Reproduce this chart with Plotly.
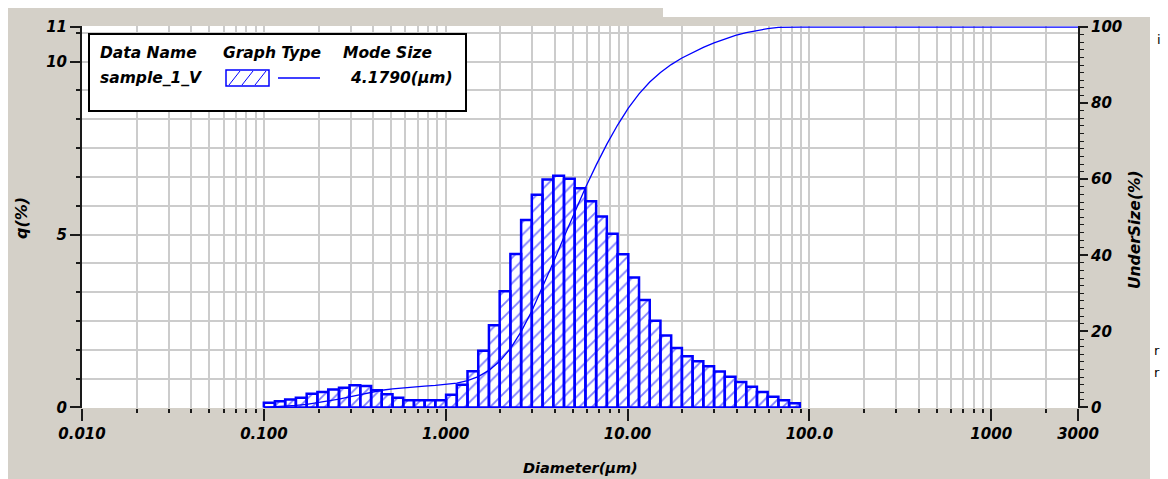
import math
import plotly.graph_objects as go

# ---------------- data ----------------
diameter_edges = [0.100, 0.115, 0.131, 0.150, 0.172, 0.197, 0.226, 0.259, 0.296, 0.339,
                  0.389, 0.445, 0.510, 0.584, 0.669, 0.766, 0.877, 1.005, 1.151, 1.318,
                  1.510, 1.729, 1.981, 2.269, 2.599, 2.976, 3.409, 3.905, 4.472, 5.122,
                  5.867, 6.720, 7.697, 8.816, 10.097, 11.565, 13.246, 15.172, 17.377, 19.904,
                  22.797, 26.111, 29.907, 34.255, 39.234, 44.938, 51.471, 58.953, 67.523, 77.340,
                  88.583]
q_percent = [0.14, 0.18, 0.23, 0.28, 0.40, 0.45, 0.52, 0.57, 0.64, 0.62,
             0.50, 0.38, 0.28, 0.21, 0.21, 0.21, 0.21, 0.37, 0.66, 1.05,
             1.64, 2.38, 3.36, 4.44, 5.42, 6.15, 6.59, 6.70, 6.61, 6.34,
             5.96, 5.52, 5.02, 4.43, 3.76, 3.11, 2.51, 2.08, 1.72, 1.48,
             1.34, 1.19, 1.04, 0.89, 0.74, 0.60, 0.45, 0.31, 0.21, 0.12]
undersize_diam = diameter_edges + [3000]
undersize_pct = [0.00, 0.14, 0.32, 0.55, 0.83, 1.23, 1.68, 2.20, 2.77, 3.41,
                 4.03, 4.53, 4.91, 5.19, 5.40, 5.61, 5.82, 6.03, 6.40, 7.06,
                 8.11, 9.75, 12.13, 15.49, 19.93, 25.35, 31.50, 38.09, 44.79, 51.40,
                 57.74, 63.70, 69.22, 74.24, 78.67, 82.43, 85.54, 88.05, 90.13, 91.85,
                 93.33, 94.67, 95.86, 96.90, 97.79, 98.53, 99.13, 99.58, 99.89, 100.0,
                 100.0, 100.0]

x_tick_vals = [0.01, 0.1, 1, 10, 100, 1000, 3000]
x_tick_text = ["0.010", "0.100", "1.000", "10.00", "100.0", "1000", "3000"]
q_tick_vals = [0, 5, 10, 11]
q_tick_text = ["0", "5", "10", "11"]
u_tick_vals = [0, 20, 40, 60, 80, 100]

data_name = "sample_1_V"
mode_size = "4.1790(µm)"

# ---------------- styling / geometry ----------------
W, H = 1168, 479
L, R, T, B = 82, 90, 26, 71
PW, PH = W - L - R, H - T - B
BLUE = "#0000FF"
GRAY_BG = "#D4D0C8"
GRID = "#CCCCCC"
AX = "#1A1A1A"
FONT = "DejaVu Sans"


def px(x):
    return (x - L) / PW


def py(y):
    return (H - B - y) / PH


bold_it = dict(family=FONT, size=15, color="black", weight="bold", style="italic")

# histogram rectangles built from the edges and values
bx, by = [], []
for i, q in enumerate(q_percent):
    x0, x1 = diameter_edges[i], diameter_edges[i + 1]
    bx += [x0, x0, x1, x1, x0, None]
    by += [0, q, q, 0, 0, None]

fig = go.Figure()
fig.add_trace(go.Scatter(
    x=bx, y=by, mode="lines", fill="toself", fillcolor="white",
    fillpattern=dict(shape="/", fgcolor=BLUE, bgcolor="white", size=9, solidity=0.2),
    line=dict(color=BLUE, width=2.5), connectgaps=False, hoverinfo="skip",
    xaxis="x", yaxis="y"))
fig.add_trace(go.Scatter(
    x=undersize_diam, y=undersize_pct, mode="lines",
    line=dict(color=BLUE, width=1.3), xaxis="x", yaxis="y2"))

minor_x = [m * 10 ** k for k in range(-2, 3) for m in range(2, 10)] + [2000]
q_lo, q_hi = -0.015, 11.03

fig.update_layout(
    width=W, height=H, margin=dict(l=L, r=R, t=T, b=B, pad=0),
    paper_bgcolor=GRAY_BG, plot_bgcolor="white", showlegend=False,
    xaxis=dict(type="log", range=[math.log10(0.01), math.log10(3000)],
               tickmode="array", tickvals=x_tick_vals, ticktext=x_tick_text,
               ticks="outside", ticklen=12, tickwidth=2, tickcolor=AX,
               tickfont=bold_it, showgrid=True, gridcolor=GRID, gridwidth=2,
               showline=False, zeroline=False,
               minor=dict(tickmode="array", tickvals=minor_x, ticks="outside",
                          ticklen=4, tickwidth=2, tickcolor=AX,
                          showgrid=True, gridcolor=GRID, gridwidth=2)),
    yaxis=dict(range=[q_lo, q_hi], tickmode="array", tickvals=q_tick_vals,
               ticktext=q_tick_text, ticks="outside", ticklen=10, tickwidth=2,
               tickcolor=AX, tickfont=bold_it, showgrid=False, zeroline=False,
               showline=True, linecolor=AX, linewidth=2,
               minor=dict(tickmode="array", tickvals=[k * 5 / 6 for k in range(1, 14)],
                          ticks="outside", ticklen=4, tickwidth=2, tickcolor=AX,
                          showgrid=True, gridcolor=GRID, gridwidth=2)),
    yaxis2=dict(range=[q_lo * 100 / 11, q_hi * 100 / 11], overlaying="y", side="right",
                tickmode="array", tickvals=u_tick_vals,
                ticktext=[str(v) for v in u_tick_vals],
                ticks="outside", ticklen=8, tickwidth=2, tickcolor=AX,
                tickfont=bold_it, showgrid=False, zeroline=False,
                showline=True, linecolor=AX, linewidth=2,
                minor=dict(tickmode="linear", tick0=0, dtick=2, ticks="outside",
                           ticklen=4, tickwidth=1, tickcolor=AX, showgrid=False)),
)

shapes = []
# white areas around the grey window
for (x0, y0, x1, y1) in [(0, 0, W, 8), (663, 0, W, 17), (0, 0, 8, H), (1150, 0, W, H)]:
    shapes.append(dict(type="rect", xref="paper", yref="paper", x0=px(x0), x1=px(x1),
                       y0=py(y1), y1=py(y0), fillcolor="white", line=dict(width=0),
                       layer="below"))
# legend box
shapes.append(dict(type="rect", xref="paper", yref="paper", x0=px(89), x1=px(466),
                   y0=py(111), y1=py(34), fillcolor="white",
                   line=dict(color="black", width=2), layer="above"))
shapes.append(dict(type="rect", xref="paper", yref="paper", x0=px(226), x1=px(269),
                   y0=py(86), y1=py(70), fillcolor="white",
                   line=dict(color=BLUE, width=1.5), layer="above"))
for x0 in (229, 242, 255):
    shapes.append(dict(type="line", xref="paper", yref="paper", x0=px(x0), x1=px(x0 + 11),
                       y0=py(85), y1=py(71), line=dict(color=BLUE, width=1), layer="above"))
shapes.append(dict(type="line", xref="paper", yref="paper", x0=px(278), x1=px(320),
                   y0=py(78), y1=py(78), line=dict(color=BLUE, width=1.5), layer="above"))
fig.update_layout(shapes=shapes)

ann = []


def add_text(text, x, y, xanchor="left", angle=0, font=None):
    ann.append(dict(text=text, x=px(x), y=py(y), xref="paper", yref="paper",
                    xanchor=xanchor, yanchor="middle", showarrow=False,
                    textangle=angle, font=font or dict(bold_it, size=15.5)))


add_text("Data Name", 98, 53)
add_text("Graph Type", 221, 53)
add_text("Mode Size", 341, 53)
add_text(data_name, 98, 78)
add_text(mode_size, 455, 78, xanchor="right")
add_text("q(%)", 21, 218, xanchor="center", angle=-90, font=dict(bold_it, size=16))
add_text("UnderSize(%)", 1135, 230, xanchor="center", angle=-90, font=dict(bold_it, size=15.5))
add_text("Diameter(µm)", 580, 468, xanchor="center", font=dict(bold_it, size=14.5))
frag = dict(family=FONT, size=13, color="black")
add_text("i", 1155, 40, font=frag)
add_text("r", 1152, 350, font=frag)
add_text("r", 1152, 372, font=frag)
fig.update_layout(annotations=ann)

fig.write_html("out.html")
